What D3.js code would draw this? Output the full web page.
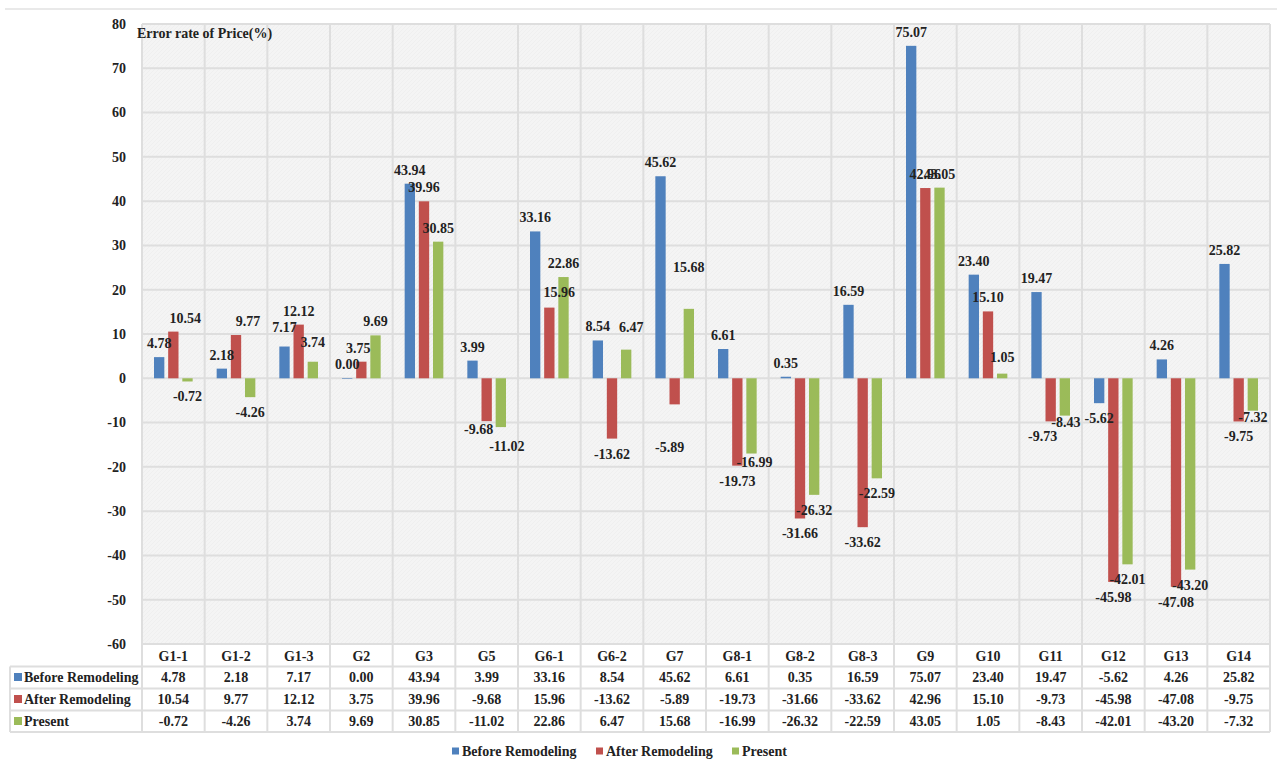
<!DOCTYPE html>
<html>
<head>
<meta charset="utf-8">
<script src="https://cdn.jsdelivr.net/npm/d3@7"></script>
<style>
  html, body { margin: 0; padding: 0; background: #ffffff; }
  svg { display: block; }
  text { font-family: "Liberation Serif", "Times New Roman", serif; font-weight: bold; fill: #222222; }
</style>
</head>
<body>
<svg id="chart" width="1277" height="762"></svg>
<script>
const categories = ["G1-1","G1-2","G1-3","G2","G3","G5","G6-1","G6-2","G7","G8-1","G8-2","G8-3","G9","G10","G11","G12","G13","G14"];
const seriesNames = ["Before Remodeling","After Remodeling","Present"];
const beforeRemodeling = [4.78, 2.18, 7.17, 0.00, 43.94, 3.99, 33.16, 8.54, 45.62, 6.61, 0.35, 16.59, 75.07, 23.40, 19.47, -5.62, 4.26, 25.82];
const afterRemodeling  = [10.54, 9.77, 12.12, 3.75, 39.96, -9.68, 15.96, -13.62, -5.89, -19.73, -31.66, -33.62, 42.96, 15.10, -9.73, -45.98, -47.08, -9.75];
const present          = [-0.72, -4.26, 3.74, 9.69, 30.85, -11.02, 22.86, 6.47, 15.68, -16.99, -26.32, -22.59, 43.05, 1.05, -8.43, -42.01, -43.20, -7.32];
const seriesColors = ["#4f81bd", "#c0504d", "#9bbb59"];
const yTicks = [80, 70, 60, 50, 40, 30, 20, 10, 0, -10, -20, -30, -40, -50, -60];
const axisTitle = "Error rate of Price(%)";

const seriesValues = [beforeRemodeling, afterRemodeling, present];

// hand-placed data label nudges seen in the reference (pixels), keyed "category|series"
const labelNudge = {
  "G1-1|1": [12, 0], "G1-2|1": [12, 0], "G1-3|0": [0, -6], "G1-3|2": [0, -6],
  "G2|1": [-3, 0], "G5|1": [-8, -7], "G5|2": [6, 4], "G6-1|1": [10, -2],
  "G6-2|2": [5, -9], "G7|1": [-5, 28], "G7|2": [0, -28], "G8-1|2": [3, -7],
  "G10|2": [0, -3], "G11|1": [-8, 0], "G11|2": [1, -9], "G14|2": [0, -8.5]
};

const svg = d3.select("#chart");
const plotLeft = 142, plotRight = 1270, plotTop = 24, plotBottom = 644;
const gridColor = "#dedede";

const x = d3.scaleBand().domain(categories).range([plotLeft, plotRight]).padding(0);
const y = d3.scaleLinear().domain([-60, 80]).range([plotBottom, plotTop]);
const xs = d3.scaleBand().domain(d3.range(3)).range([12, x.bandwidth() - 12]).paddingInner(0.27);

// texture pattern for plot background
const defs = svg.append("defs");
const pat = defs.append("pattern").attr("id", "tex").attr("width", 4).attr("height", 4)
  .attr("patternUnits", "userSpaceOnUse");
pat.append("rect").attr("width", 4).attr("height", 4).attr("fill", "#f4f4f4");
pat.append("path").attr("d", "M0,4 L4,0").attr("stroke", "#ededed").attr("stroke-width", 0.8);

// top rule
svg.append("line").attr("x1", 5).attr("x2", 1277).attr("y1", 9).attr("y2", 9)
  .attr("stroke", "#e2e2e2").attr("stroke-width", 1.5);

// plot background
svg.append("rect").attr("x", plotLeft).attr("y", plotTop)
  .attr("width", plotRight - plotLeft).attr("height", plotBottom - plotTop)
  .attr("fill", "url(#tex)");

// horizontal grid
svg.append("g").selectAll("line").data(yTicks).join("line")
  .attr("x1", plotLeft).attr("x2", plotRight)
  .attr("y1", d => y(d)).attr("y2", d => y(d))
  .attr("stroke", gridColor).attr("stroke-width", 2);

// table rows geometry
const rowTops = [644, 666.5, 688.5, 710.5, 732];

// vertical grid lines (plot + table)
const vLines = categories.map(c => x(c)).concat([plotRight]);
svg.append("g").selectAll("line").data(vLines).join("line")
  .attr("x1", d => d).attr("x2", d => d)
  .attr("y1", plotTop).attr("y2", rowTops[4])
  .attr("stroke", gridColor).attr("stroke-width", 2);

// table horizontal lines
svg.append("g").selectAll("line").data(rowTops).join("line")
  .attr("x1", (d, i) => i === 0 ? plotLeft : 10).attr("x2", plotRight)
  .attr("y1", d => d).attr("y2", d => d)
  .attr("stroke", gridColor).attr("stroke-width", 2);
svg.append("line").attr("x1", 10).attr("x2", 10).attr("y1", rowTops[1]).attr("y2", rowTops[4])
  .attr("stroke", gridColor).attr("stroke-width", 2);

// y axis labels
svg.append("g").selectAll("text").data(yTicks).join("text")
  .attr("x", 126).attr("y", d => y(d)).attr("dy", "0.35em")
  .attr("text-anchor", "end").attr("font-size", 14).text(d => d);

// axis title
svg.append("text").attr("x", 137).attr("y", 38).attr("font-size", 14).text(axisTitle);

// bars
const groups = svg.append("g").selectAll("g").data(categories).join("g")
  .attr("transform", c => `translate(${x(c)},0)`);

seriesValues.forEach((vals, si) => {
  groups.append("rect")
    .attr("x", xs(si)).attr("width", xs.bandwidth())
    .attr("y", (c, i) => Math.min(y(vals[i]), y(0)))
    .attr("height", (c, i) => Math.max(Math.abs(y(vals[i]) - y(0)), 0.6))
    .attr("fill", seriesColors[si]);
});

// value labels
const nudge = (c, si) => labelNudge[c + "|" + si] || [0, 0];
seriesValues.forEach((vals, si) => {
  groups.append("text")
    .attr("x", c => xs(si) + xs.bandwidth() / 2 + nudge(c, si)[0])
    .attr("y", (c, i) => (vals[i] >= 0 ? y(vals[i]) - 9 : y(vals[i]) + 20) + nudge(c, si)[1])
    .attr("text-anchor", "middle").attr("font-size", 14)
    .text((c, i) => vals[i].toFixed(2));
});

// table header
svg.append("g").selectAll("text").data(categories).join("text")
  .attr("x", c => x(c) + x.bandwidth() / 2).attr("y", 660.5)
  .attr("text-anchor", "middle").attr("font-size", 14).text(c => c);

const rowBaselines = [682, 704, 726];
seriesValues.forEach((vals, si) => {
  svg.append("rect").attr("x", 14).attr("y", rowBaselines[si] - 9).attr("width", 8).attr("height", 8)
    .attr("fill", seriesColors[si]);
  svg.append("text").attr("x", 24).attr("y", rowBaselines[si]).attr("font-size", 14).text(seriesNames[si]);
  svg.append("g").selectAll("text").data(categories).join("text")
    .attr("x", c => x(c) + x.bandwidth() / 2).attr("y", rowBaselines[si])
    .attr("text-anchor", "middle").attr("font-size", 14)
    .text((c, i) => vals[i].toFixed(2));
});

// legend
const legendX = [452, 596, 732];
seriesNames.forEach((n, i) => {
  svg.append("rect").attr("x", legendX[i]).attr("y", 747.5).attr("width", 7).attr("height", 7).attr("fill", seriesColors[i]);
  svg.append("text").attr("x", legendX[i] + 10).attr("y", 755.5).attr("font-size", 14).text(n);
});
</script>
</body>
</html>
